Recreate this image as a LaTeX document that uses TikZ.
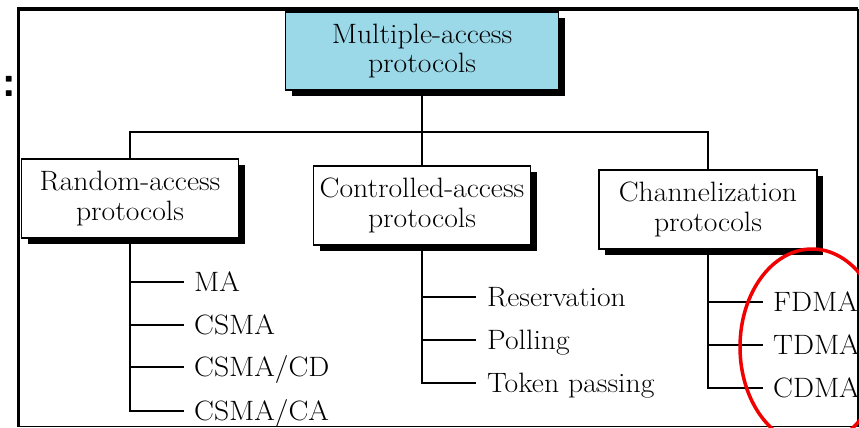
\documentclass[tikz,border=0pt]{standalone}
\usepackage{fontspec}
\setmainfont{Latin Modern Roman}[FakeStretch=1.06]
\usetikzlibrary{shadows}
\definecolor{topblue}{RGB}{155,216,232}
\definecolor{circred}{RGB}{240,0,0}
\begin{document}
\begin{tikzpicture}[x=1pt,y=-1pt,
  box/.style={draw=black, line width=1.3pt, fill=white, align=center, inner sep=2pt,
    minimum height=79pt, font=\fontsize{28}{29.5}\selectfont,
    drop shadow={fill=black, opacity=1, shadow xshift=6pt, shadow yshift=-6pt}},
  leaf/.style={anchor=west, inner sep=0pt, text height=19pt, text depth=0pt,
    font=\fontsize{28}{29.5}\selectfont},
  conn/.style={line width=2pt, line cap=rect}
]
\useasboundingbox (0,0) rectangle (859,428);
% frame
\draw[line width=3.5pt] (18.5,426) -- (18.5,9) -- (858,9);
\draw[line width=1.6pt] (858,9) -- (858,426.5) -- (17,426.5);
% colon from cut-off title
\node[font=\fontsize{44}{44}\selectfont\bfseries\sffamily, inner sep=0pt] (colon) at (9,86) {:};
% boxes
\node[box, fill=topblue, minimum width=273pt, minimum height=78pt] (top) at (422,51) {Multiple-access\\protocols};
\node[box, minimum width=217pt] (rand) at (130,198.5) {Random-access\\protocols};
\node[box, minimum width=217pt] (ctrl) at (422,205.5) {Controlled-access\\protocols};
\node[box, minimum width=218pt] (chan) at (708,209.5) {Channelization\\protocols};
\coordinate (bus) at (422,132);
% leaves
\node[leaf] (ma) at (194,282) {MA};
\node[leaf] (csma) at (194,325) {CSMA};
\node[leaf] (csmacd) at (194,367) {CSMA/CD};
\node[leaf] (csmaca) at (194,411) {CSMA/CA};
\node[leaf] (res) at (487,297) {Reservation};
\node[leaf] (poll) at (487,340) {Polling};
\node[leaf] (tok) at (487,383) {Token passing};
\node[leaf] (fdma) at (773,302) {FDMA};
\node[leaf] (tdma) at (773,345) {TDMA};
\node[leaf] (cdma) at (773,388) {CDMA};
% connectors
\draw[conn] (top.south) -- (ctrl.north);
\draw[conn] (rand.north) |- (bus) -| (chan.north);
\draw[conn] (rand.south) -- (rand.south |- csmaca.west) -- ([xshift=-11pt]csmaca.west);
\foreach \n in {ma,csma,csmacd}
  \draw[conn] (rand.south |- \n.west) -- ([xshift=-11pt]\n.west);
\draw[conn] (ctrl.south) -- (ctrl.south |- tok.west) -- ([xshift=-12pt]tok.west);
\foreach \n in {res,poll}
  \draw[conn] (ctrl.south |- \n.west) -- ([xshift=-12pt]\n.west);
\draw[conn] (chan.south) -- (chan.south |- cdma.west) -- ([xshift=-11pt]cdma.west);
\foreach \n in {fdma,tdma}
  \draw[conn] (chan.south |- \n.west) -- ([xshift=-11pt]\n.west);
% red ellipse
\draw[circred, line width=3.5pt] (812,347) ellipse [x radius=72, y radius=98];
\end{tikzpicture}
\end{document}
